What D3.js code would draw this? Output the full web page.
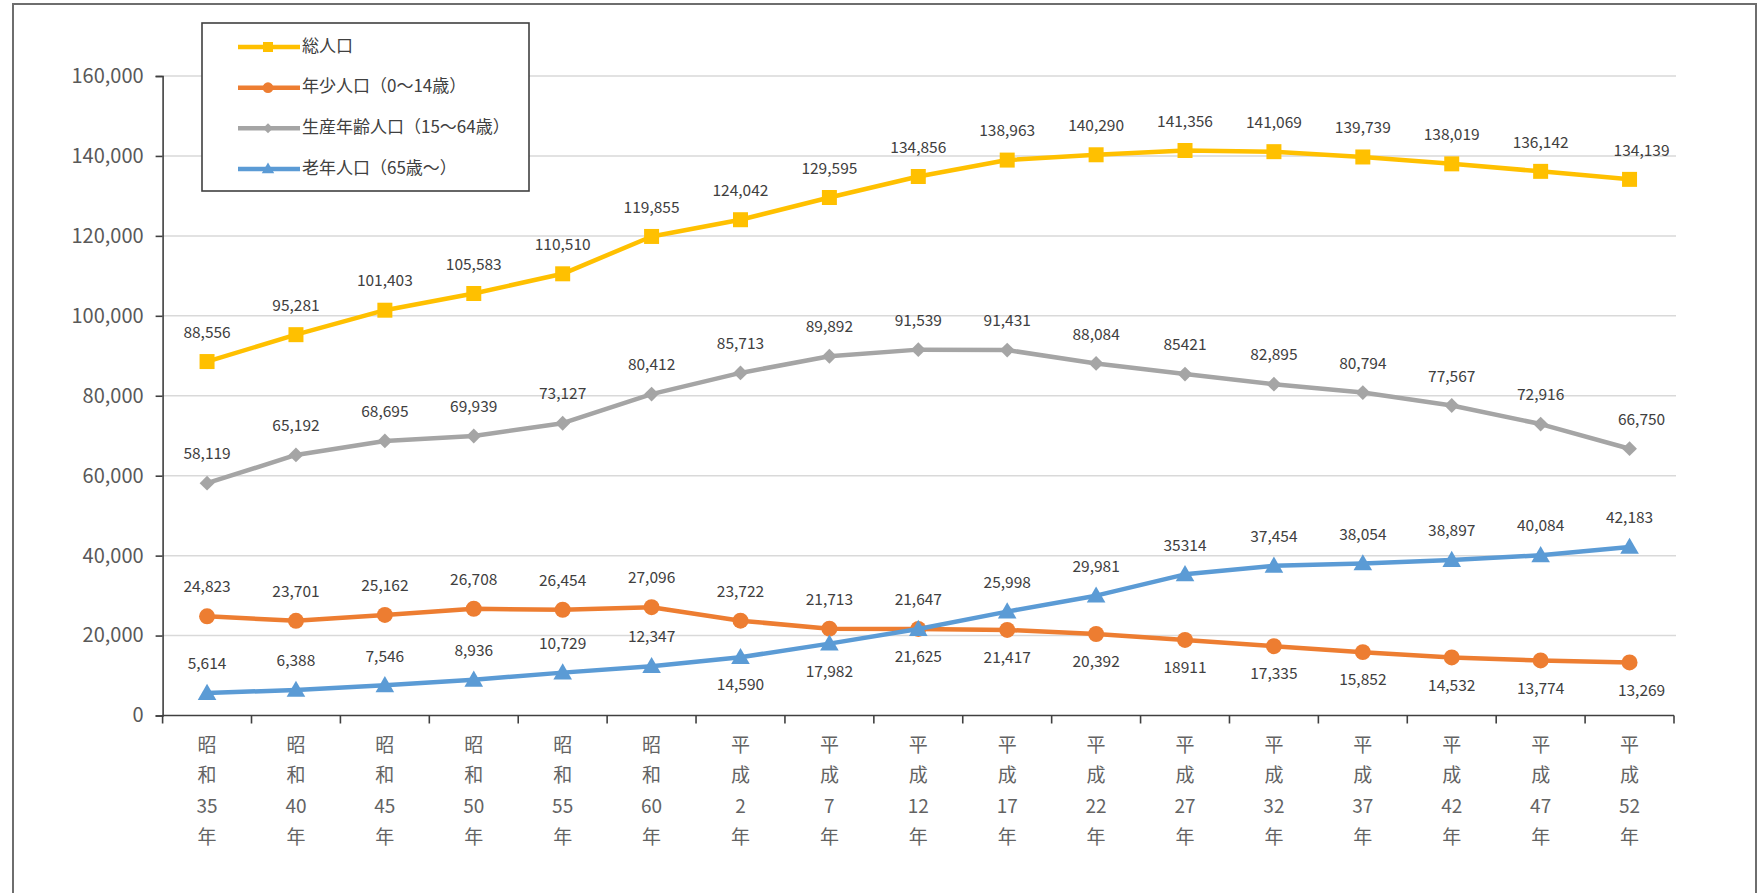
<!DOCTYPE html>
<html>
<head>
<meta charset="utf-8">
<script src="https://cdn.jsdelivr.net/npm/d3@7"></script>
<style>
  html, body { margin: 0; padding: 0; background: #fff; }
  svg { display: block; }
</style>
</head>
<body>
<svg id="chart"></svg>
<script>
// categories (x axis)
const categories = ["昭和35年", "昭和40年", "昭和45年", "昭和50年", "昭和55年", "昭和60年",
    "平成2年", "平成7年", "平成12年", "平成17年", "平成22年", "平成27年", "平成32年",
    "平成37年", "平成42年", "平成47年", "平成52年"];

// series values
const totalPop   = [88556, 95281, 101403, 105583, 110510, 119855, 124042, 129595, 134856, 138963, 140290, 141356, 141069, 139739, 138019, 136142, 134139];
const youngPop   = [24823, 23701, 25162, 26708, 26454, 27096, 23722, 21713, 21647, 21417, 20392, 18911, 17335, 15852, 14532, 13774, 13269];
const workingPop = [58119, 65192, 68695, 69939, 73127, 80412, 85713, 89892, 91539, 91431, 88084, 85421, 82895, 80794, 77567, 72916, 66750];
const elderPop   = [5614, 6388, 7546, 8936, 10729, 12347, 14590, 17982, 21625, 25998, 29981, 35314, 37454, 38054, 38897, 40084, 42183];

// y tick values
const yTicks = [0, 20000, 40000, 60000, 80000, 100000, 120000, 140000, 160000];

// labels that appear without thousands separator in the original
const plainLabels = { working: [11], young: [11], elder: [11] };

const series = [
    { key: "total",   name: "総人口",               values: totalPop,   color: "#FFC000", marker: "square" },
    { key: "young",   name: "年少人口（0〜14歳）",     values: youngPop,   color: "#ED7D31", marker: "circle" },
    { key: "working", name: "生産年齢人口（15〜64歳）", values: workingPop, color: "#A5A5A5", marker: "diamond" },
    { key: "elder",   name: "老年人口（65歳〜）",      values: elderPop,   color: "#5B9BD5", marker: "triangle" }
];

const width = 1758, height = 893;
const margin = { top: 76, right: 84, bottom: 177.5, left: 162.6 };
const innerW = width - margin.left - margin.right;
const innerH = height - margin.top - margin.bottom;

const font = "'Noto Sans CJK JP', 'Noto Sans', sans-serif";

const svg = d3.select("#chart").attr("width", width).attr("height", height);

// outer frame
svg.append("rect")
    .attr("x", 13).attr("y", 4)
    .attr("width", 1743).attr("height", 920)
    .attr("fill", "#fff")
    .attr("stroke", "#6e6e6e")
    .attr("stroke-width", 2);

const chart = svg.append("g").attr("transform", `translate(${margin.left},${margin.top})`);

const x = d3.scaleBand().domain(categories).range([0, innerW]).paddingInner(0).paddingOuter(0);
const y = d3.scaleLinear().domain([0, 160000]).range([innerH, 0]);
const cx = d => x(d) + x.bandwidth() / 2;

// gridlines
chart.append("g")
    .selectAll("line")
    .data(yTicks.filter(t => t > 0))
    .join("line")
    .attr("x1", 0).attr("x2", innerW + 2)
    .attr("y1", d => y(d)).attr("y2", d => y(d))
    .attr("stroke", "#d9d9d9")
    .attr("stroke-width", 1.5);

// y axis
const yAxis = chart.append("g")
    .call(d3.axisLeft(y).tickValues(yTicks).tickSize(7).tickPadding(12).tickFormat(d3.format(",")));
yAxis.select(".domain").attr("stroke", "#404040").attr("stroke-width", 1.6);
yAxis.selectAll(".tick line").attr("stroke", "#404040").attr("stroke-width", 1.6);
yAxis.selectAll("text")
    .attr("fill", "#595959")
    .style("font-family", font)
    .style("font-size", "20px");

// x axis: line + ticks at band boundaries
const xAxis = chart.append("g").attr("transform", `translate(0,${innerH})`);
xAxis.append("line")
    .attr("x1", 0).attr("x2", innerW)
    .attr("stroke", "#404040").attr("stroke-width", 1.6);
xAxis.selectAll("line.tk")
    .data(categories.concat(["__end"]))
    .join("line")
    .attr("class", "tk")
    .attr("x1", (d, i) => i < categories.length ? x(d) : innerW)
    .attr("x2", (d, i) => i < categories.length ? x(d) : innerW)
    .attr("y1", 0).attr("y2", 8)
    .attr("stroke", "#404040").attr("stroke-width", 1.6);

// vertical x labels
const xLab = xAxis.selectAll("text.xl")
    .data(categories)
    .join("text")
    .attr("class", "xl")
    .attr("x", d => cx(d))
    .attr("y", 36)
    .attr("text-anchor", "middle")
    .attr("fill", "#636363")
    .style("font-family", font)
    .style("font-size", "19px");
xLab.each(function (d) {
    const m = d.match(/^(\D+?)(\d+)(年)$/);
    const lines = [...m[1], m[2], m[3]];
    d3.select(this).selectAll("tspan")
        .data(lines)
        .join("tspan")
        .attr("x", cx(d))
        .attr("dy", (t, i) => i === 0 ? 0 : 30.7)
        .text(t => t);
});

// lines
const line = d3.line()
    .x((v, i) => cx(categories[i]))
    .y(v => y(v));

series.forEach(s => {
    const g = chart.append("g");
    g.append("path")
        .datum(s.values)
        .attr("fill", "none")
        .attr("stroke", s.color)
        .attr("stroke-width", 4.5)
        .attr("stroke-linejoin", "round")
        .attr("d", line);

    drawMarkers(g, s, s.values.map((v, i) => [cx(categories[i]), y(v)]), 1);
});

function drawMarkers(g, s, pts, scale) {
    // diamond = square turned 45 degrees, like the spreadsheet marker
    const sym = {
        square: d3.symbolSquare,
        circle: d3.symbolCircle,
        diamond: d3.symbolSquare,
        triangle: d3.symbolTriangle
    }[s.marker];
    const size = {
        square: 225,
        circle: 200,
        diamond: 110,
        triangle: 150
    }[s.marker] * scale;
    const rot = s.marker === "diamond" ? " rotate(45)" : "";
    g.selectAll("path.mk")
        .data(pts)
        .join("path")
        .attr("class", "mk")
        .attr("transform", p => `translate(${p[0]},${p[1] + (s.marker === "triangle" ? 1.5 * scale : 0)})${rot}`)
        .attr("d", d3.symbol().type(sym).size(size))
        .attr("fill", s.color);
}

// data labels
function labelAbove(key, i) {
    if (key === "young") return i <= 8;
    if (key === "elder") return i <= 5 || i >= 9;
    return true;
}

series.forEach(s => {
    const plain = plainLabels[s.key] || [];
    chart.append("g")
        .selectAll("text")
        .data(s.values)
        .join("text")
        .attr("x", (v, i) => cx(categories[i]) + (i === s.values.length - 1 && s.key !== "elder" ? 12 : 0))
        .attr("y", (v, i) => y(v) + (labelAbove(s.key, i) ? -28 : 29))
        .attr("dominant-baseline", "middle")
        .attr("text-anchor", "middle")
        .attr("fill", "#404040")
        .style("font-family", font)
        .style("font-size", "15.5px")
        .text((v, i) => plain.includes(i) ? String(v) : d3.format(",")(v));
});

// legend
const legend = svg.append("g");
legend.append("rect")
    .attr("x", 202).attr("y", 23)
    .attr("width", 327).attr("height", 168)
    .attr("fill", "#fff")
    .attr("stroke", "#404040")
    .attr("stroke-width", 1.6);

const legendY = d3.scalePoint().domain(series.map(s => s.key)).range([47, 169]);

series.forEach(s => {
    const ly = legendY(s.key);
    const g = legend.append("g");
    g.append("line")
        .attr("x1", 238).attr("x2", 300)
        .attr("y1", ly).attr("y2", ly)
        .attr("stroke", s.color)
        .attr("stroke-width", 4.5);
    drawMarkers(g, s, [[268, ly]], 0.45);
    g.append("text")
        .attr("x", 302)
        .attr("y", ly)
        .attr("dominant-baseline", "middle")
        .attr("fill", "#404040")
        .style("font-family", font)
        .style("font-size", "17px")
        .text(s.name);
});
</script>
</body>
</html>
